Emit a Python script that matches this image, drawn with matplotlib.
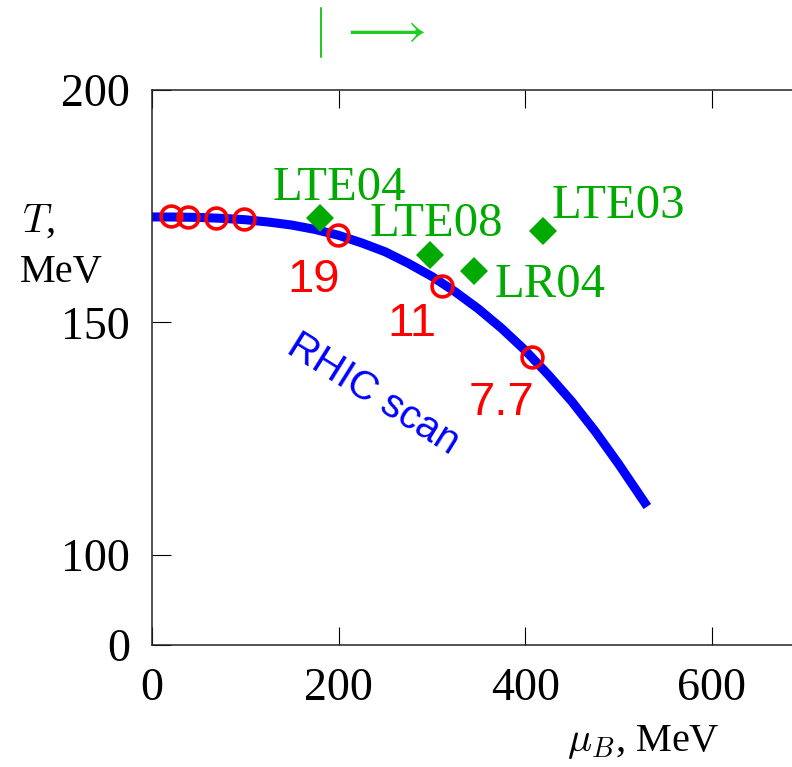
import numpy as np
import matplotlib
matplotlib.use('Agg')
import matplotlib.pyplot as plt

plt.rcParams['font.family'] = 'Liberation Serif'
plt.rcParams['mathtext.fontset'] = 'cm'

# freeze-out curve of the RHIC scan
curve_mu = [0, 25, 50, 75, 100, 125, 150, 175, 200, 225, 250, 275, 300,
            325, 350, 375, 400, 425, 450, 475, 500, 531]
curve_T = [172.7, 172.68, 172.6, 172.4, 172.1, 171.6, 170.95, 170.0, 168.75,
           167.1, 165.2, 162.7, 159.9, 156.6, 152.9, 148.7, 144.0, 138.7,
           133.0, 126.6, 119.6, 110.4]

# RHIC energies (open circles)
rhic_mu = [20, 39, 69, 99, 199, 311, 407]
rhic_T = [172.8, 172.6, 172.4, 172.2, 168.8, 157.9, 142.6]
rhic_lab = ['', '', '', '', '19', '11', '7.7']

# lattice points (green diamonds)
lat_names = ['LTE04', 'LTE08', 'LR04', 'LTE03']
lat_mu = [180, 298, 345, 419]
lat_T = [172.5, 164.5, 161.0, 169.7]

xticks = [0, 200, 400, 600]
yticks = [80.6, 100, 150, 200]
ytick_labels = ['0', '100', '150', '200']

green = '#00aa00'

fig = plt.figure(figsize=(7.92, 7.67), dpi=100)
ax = fig.add_axes([0.1919, 0.159, 0.8245, 0.7236])

ax.plot(curve_mu, curve_T, color='#0000ff', lw=6.5, solid_capstyle='butt',
        solid_joinstyle='round', zorder=2)
ax.plot(lat_mu, lat_T, 'D', color=green, ms=14.5, mew=0, zorder=3)
ax.plot(rhic_mu, rhic_T, 'o', mfc='none', mec='#ff0000', ms=15, mew=2.6, zorder=4)

# labels next to the points
red_off = {'19': (-50, -57), '11': (-55, -50), '7.7': (-63, -58)}
for m, t, s in zip(rhic_mu, rhic_T, rhic_lab):
    if s:
        ax.annotate(s, (m, t), xytext=red_off[s], textcoords='offset pixels',
                    color='#ff0000', fontsize=34, family='Liberation Sans',
                    ha='left', va='baseline')

lat_off = [(-47, 18), (-60, 19), (21, -26), (9, 13)]
for m, t, s, o in zip(lat_mu, lat_T, lat_names, lat_off):
    ax.annotate(s, (m, t), xytext=o, textcoords='offset pixels',
                color=green, fontsize=35, ha='left', va='baseline')

ax.text(236.8, 134.5, 'RHIC scan', rotation=-32, rotation_mode='anchor',
        ha='center', va='center', color='#0000ff', fontsize=29,
        family='Liberation Sans')

ax.set_xlim(0, 700)
ax.set_ylim(80.6, 200)
ax.set_xticks(xticks)
ax.set_xticklabels([str(v) for v in xticks])
ax.set_yticks(yticks)
ax.set_yticklabels(ytick_labels)
ax.tick_params(axis='x', direction='in', top=True, length=13, width=0.8, pad=16, labelsize=33)
ax.tick_params(axis='y', direction='in', length=14, width=0.8, pad=16, labelsize=33)
for sp in ax.spines.values():
    sp.set_linewidth(1.1)
    sp.set_color('#222222')

fig.text(22 / 792, 1 - 232 / 767, '$T$,', fontsize=29, ha='left', va='baseline')
fig.text(20 / 792, 1 - 282 / 767, 'MeV', fontsize=29, ha='left', va='baseline')
fig.text(567 / 792, 1 - 751 / 767, r'$\mu_B$, MeV', fontsize=29, ha='left', va='baseline')

fig.text(0.466, 0.958, r'$|\;\longrightarrow$', color='#22cc22', fontsize=36,
         ha='center', va='center')

fig.savefig('out.png', dpi=100)
